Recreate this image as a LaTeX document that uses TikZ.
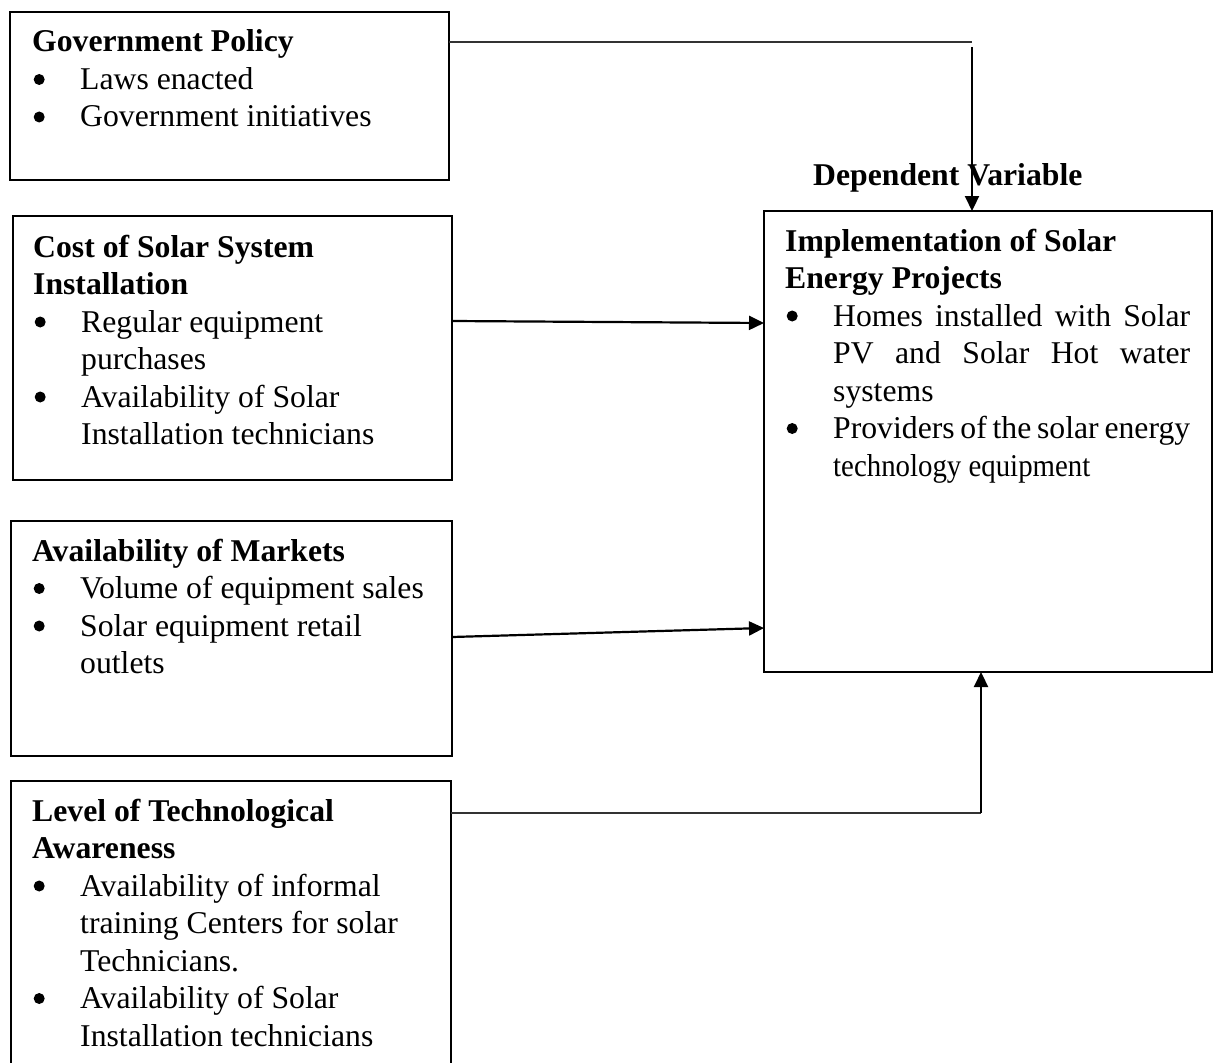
\documentclass[tikz,border=0pt]{standalone}
\usepackage{fontspec}
\usepackage{graphicx}
\setmainfont{Liberation Serif}
\usetikzlibrary{arrows.meta,calc}
\newcommand{\bdot}{\tikz[baseline=0pt]\fill[black] (5.5pt,10pt) circle[radius=5.5pt];}
\newcommand{\bitem}{\makebox[48pt][l]{\hspace*{1.5pt}\bdot}}
\newcommand{\bcont}{\hspace*{48pt}}
\begin{document}
\begin{tikzpicture}[x=1pt,y=-1pt,
  box/.style={draw=black, line width=1.8pt, inner sep=0pt, outer sep=0pt, anchor=north west},
  txt/.style={anchor=base west, inner sep=0pt, font=\fontsize{31.7}{37.5}\selectfont},
  arr/.style={line width=2.2pt, -{Triangle[length=15pt,width=14pt]}},
  thinln/.style={line width=1.6pt, draw=black!80}]
\useasboundingbox (0,0) rectangle (1217,1062);
\clip (0,0) rectangle (1217,1062);

% boxes
\node[box, minimum width=439pt, minimum height=168pt] (gov) at (10,12) {};
\node[box, minimum width=439pt, minimum height=264pt] (cost) at (13,216) {};
\node[box, minimum width=441pt, minimum height=235pt] (mkt) at (11,521) {};
\node[box, minimum width=440pt, minimum height=320pt] (tech) at (11,781) {};
\node[box, minimum width=448pt, minimum height=461pt] (impl) at (764,211) {};

% texts
\node[txt] (govt) at (32,52) {\begin{tabular}[t]{@{}l@{}}\textbf{Government Policy}\\ \bitem Laws enacted\\ \bitem Government initiatives\end{tabular}};
\node[txt] (costt) at (33,257) {\begin{tabular}[t]{@{}l@{}}\textbf{Cost of Solar System}\\ \textbf{Installation}\\ \bitem Regular equipment\\ \bcont purchases\\ \bitem Availability of Solar\\ \bcont Installation technicians\end{tabular}};
\node[txt] (mktt) at (32,561) {\begin{tabular}[t]{@{}l@{}}\textbf{Availability of Markets}\\ \bitem Volume of equipment sales\\ \bitem Solar equipment retail\\ \bcont outlets\end{tabular}};
\node[txt] (techt) at (32,821) {\begin{tabular}[t]{@{}l@{}}\textbf{Level of Technological}\\ \textbf{Awareness}\\ \bitem Availability of informal\\ \bcont training Centers for solar\\ \bcont Technicians.\\ \bitem Availability of Solar\\ \bcont Installation technicians\end{tabular}};
\node[txt] (implt) at (785,251) {\begin{tabular}[t]{@{}l@{}}\textbf{Implementation of Solar}\\ \textbf{Energy Projects}\\ \bitem\makebox[357pt][s]{Homes installed with Solar}\\ \bcont\makebox[357pt][s]{PV and Solar Hot water}\\ \bcont systems\\ \bitem\makebox[357pt][s]{Providers of the solar energy}\\ \bcont\scalebox{0.91}[1]{technology equipment}\end{tabular}};
\node[txt] (dv) at (813,185) {\textbf{Dependent Variable}};

% connectors
\coordinate (g1) at (972,42);
\coordinate (g2) at (972,47);
\draw[thinln] (gov.east |- g1) -- (g1);
\draw[arr] (g2) -- (impl.north -| g2);

\coordinate (c1) at (0,321);
\coordinate (c2) at (0,323);
\draw[arr] (cost.east |- c1) -- (impl.west |- c2);

\coordinate (m1) at (0,637);
\coordinate (m2) at (0,628);
\draw[arr] (mkt.east |- m1) -- (impl.west |- m2);

\coordinate (t1) at (981,813);
\draw[thinln] (tech.east |- t1) -- (t1);
\draw[arr] (t1) -- (impl.south -| t1);
\end{tikzpicture}
\end{document}
